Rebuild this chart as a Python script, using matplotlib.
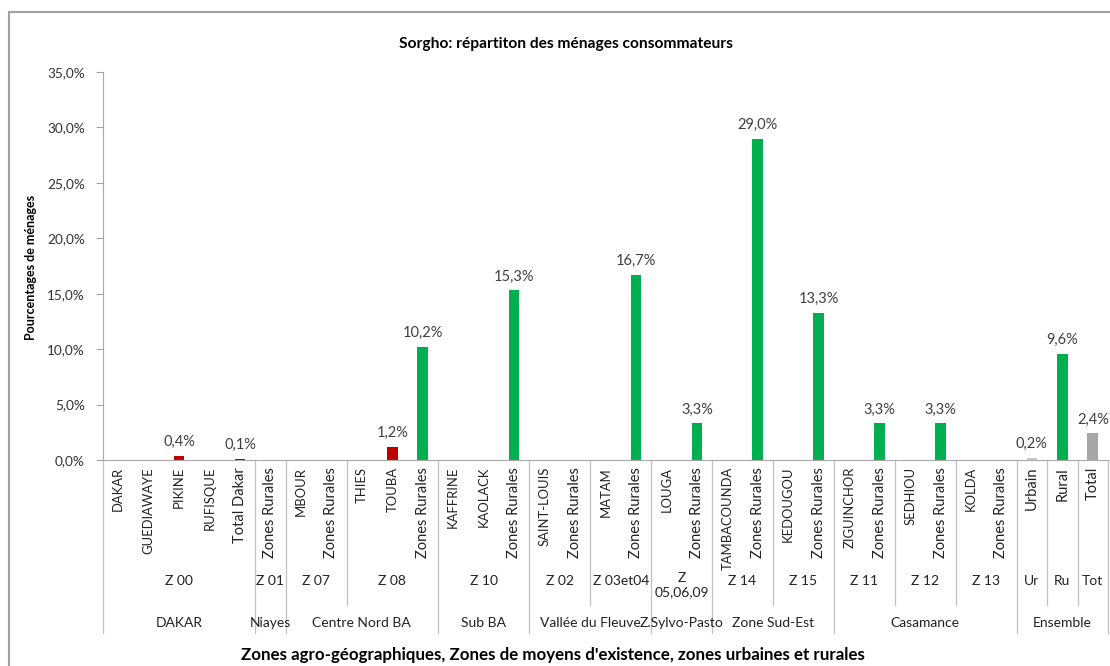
import matplotlib
matplotlib.use("Agg")
import matplotlib.pyplot as plt
from matplotlib.lines import Line2D
from matplotlib.transforms import blended_transform_factory
from matplotlib.ticker import FuncFormatter

plt.rcParams['font.family'] = ['Lato', 'DejaVu Sans']

# categories (lowest level of the axis)
categories = ["DAKAR", "GUEDIAWAYE", "PIKINE", "RUFISQUE", "Total Dakar",
              "Zones Rurales",
              "MBOUR", "Zones Rurales",
              "THIES", "TOUBA", "Zones Rurales",
              "KAFFRINE", "KAOLACK", "Zones Rurales",
              "SAINT-LOUIS", "Zones Rurales",
              "MATAM", "Zones Rurales",
              "LOUGA", "Zones Rurales",
              "TAMBACOUNDA", "Zones Rurales",
              "KEDOUGOU", "Zones Rurales",
              "ZIGUINCHOR", "Zones Rurales",
              "SEDHIOU", "Zones Rurales",
              "KOLDA", "Zones Rurales",
              "Urbain", "Rural", "Total"]

# share of consuming households (%), 0 = no value
values = [0, 0, 0.4, 0, 0.1,
          0,
          0, 0,
          0, 1.2, 10.2,
          0, 0, 15.3,
          0, 0,
          0, 16.7,
          0, 3.3,
          0, 29.0,
          0, 13.3,
          0, 3.3,
          0, 3.3,
          0, 0,
          0.2, 9.6, 2.4]

kinds = ["u", "u", "u", "u", "u",
         "r",
         "u", "r",
         "u", "u", "r",
         "u", "u", "r",
         "u", "r",
         "u", "r",
         "u", "r",
         "u", "r",
         "u", "r",
         "u", "r",
         "u", "r",
         "u", "r",
         "g", "r", "t"]

# livelihood zones (middle level): label, number of categories
zones = [("Z 00", 5), ("Z 01", 1), ("Z 07", 2), ("Z 08", 3), ("Z 10", 3),
         ("Z 02", 2), ("Z 03et04", 2), ("Z\n05,06,09", 2), ("Z 14", 2),
         ("Z 15", 2), ("Z 11", 2), ("Z 12", 2), ("Z 13", 2),
         ("Ur", 1), ("Ru", 1), ("Tot", 1)]

# agro-geographic zones (top level): label, number of categories
regions = [("DAKAR", 5), ("Niayes", 1), ("Centre Nord BA", 5), ("Sub BA", 3),
           ("Vallée du Fleuve", 4), ("Z.Sylvo-Pasto", 2), ("Zone Sud-Est", 4),
           ("Casamance", 6), ("Ensemble", 3)]

palette = {"u": "#C00000", "r": "#00B050", "g": "#C8C8C8", "t": "#A6A6A6"}

W, H = 1110, 666
fig = plt.figure(figsize=(W / 100, H / 100), dpi=100)
ax = fig.add_axes([103 / W, 1 - 460 / H, (1108 - 103) / W, (460 - 72) / H])

x = list(range(len(categories)))
y = [v / 100 for v in values]
ax.bar(x, y, width=0.35, color=[palette[k] for k in kinds])

for xi, v in zip(x, values):
    if v > 0:
        ax.annotate(f"{v:.1f}%".replace(".", ","), (xi, v / 100),
                    xytext=(0, 5), textcoords="offset points",
                    ha="center", va="bottom", fontsize=10.5, color="#404040")

ax.set_xlim(-0.5, len(categories) - 0.5)
ax.set_ylim(0, 0.35)
ax.set_yticks([i * 0.05 for i in range(8)])
ax.yaxis.set_major_formatter(FuncFormatter(lambda v, p: f"{v * 100:.1f}%".replace(".", ",")))
ax.tick_params(axis="y", labelsize=9.8, colors="#A0A0A0", labelcolor="#333333",
               length=5, width=0.8, pad=8)
ax.set_xticks([])
for s in ["top", "right"]:
    ax.spines[s].set_visible(False)
ax.spines["left"].set_color("#A8A8A8")
ax.spines["bottom"].set_color("#A8A8A8")

# multi-level category axis below the plot
tr = blended_transform_factory(ax.transData, fig.transFigure)
def fy(py):
    return 1 - py / H

line_kw = dict(color="#C0C0C0", lw=0.9, transform=tr, clip_on=False)

for xi, name in zip(x, categories):
    size = 9.4 if name.isupper() else 10.5
    ax.text(xi, fy(467), name, rotation=90, ha="center", va="top",
            fontsize=size, color="#222222", transform=tr)

start = 0
for name, n in zones:
    c = start + (n - 1) / 2
    if "\n" in name:
        ax.text(c, fy(572), name, ha="center", va="top", fontsize=10,
                color="#222222", transform=tr, linespacing=1.25)
    else:
        ax.text(c, fy(581), name, ha="center", va="center", fontsize=10,
                color="#222222", transform=tr)
    start += n

bounds3 = [0]
for name, n in regions:
    bounds3.append(bounds3[-1] + n)
start = 0
for name, n in zones:
    b = start + n
    if b not in bounds3:
        ax.add_line(Line2D([b - 0.5, b - 0.5], [fy(460), fy(605)], **line_kw))
    start = b
for b in bounds3:
    ax.add_line(Line2D([b - 0.5, b - 0.5], [fy(460), fy(633)], **line_kw))

start = 0
for name, n in regions:
    c = start + (n - 1) / 2
    ax.text(c, fy(623), name, ha="center", va="center", fontsize=10,
            color="#222222", transform=tr)
    start += n

fig.text(566 / W, fy(44), "Sorgho: répartiton des ménages consommateurs",
         ha="center", va="center", fontsize=11.2, fontweight="bold")
fig.text(31 / W, fy(267), "Pourcentages de ménages", rotation=90,
         ha="center", va="center", fontsize=9, fontweight="bold")
fig.text(553 / W, fy(655),
         "Zones agro-géographiques, Zones de moyens d'existence, zones urbaines et rurales",
         ha="center", va="center", fontsize=12.2, fontweight="bold")

# chart frame
fig.add_artist(Line2D([8.5 / W, 8.5 / W], [0, fy(12)], color="#A0A0A0", lw=1.5,
                      transform=fig.transFigure))
fig.add_artist(Line2D([8.5 / W, 1], [fy(12), fy(12)], color="#A0A0A0", lw=1.5,
                      transform=fig.transFigure))

fig.savefig("out.png", dpi=100)
